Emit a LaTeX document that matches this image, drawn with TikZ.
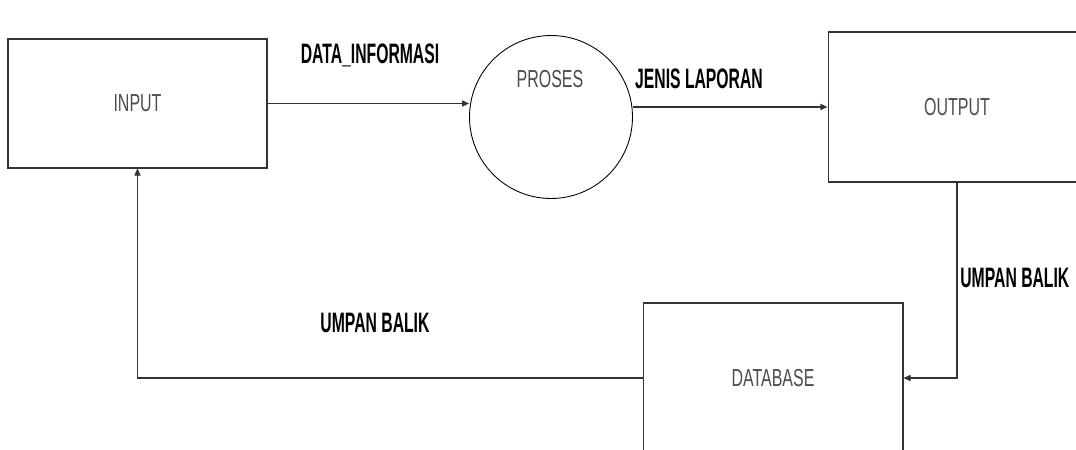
\documentclass[tikz,border=0pt]{standalone}
\usepackage{fontspec}
\setmainfont{Liberation Sans}
\newfontfamily\narrowfont[FakeStretch=0.65]{Liberation Sans}
\newfontfamily\narrowbold[FakeStretch=0.56]{Liberation Sans Bold}
\usetikzlibrary{arrows.meta, positioning, calc}

\begin{document}
\begin{tikzpicture}[x=0.02cm, y=-0.02cm,
        box/.style={draw=black!80, line width=0.6pt, text=black!70, font=\narrowfont\fontsize{14}{16}\selectfont},
        circ/.style={circle, draw=black, line width=0.5pt, minimum size=3.26cm, inner sep=0},
        lbl/.style={inner sep=0, font=\narrowbold\fontsize{16}{18}\selectfont},
        e/.style={-{Triangle[length=4pt, width=3.5pt]}, line width=0.6pt, draw=black!80}]
        \useasboundingbox (0,0) rectangle (1076,450);

        \draw node[box, minimum width=5.18cm, minimum height=2.58cm] (input) at (137.5,103.5) {INPUT};
        \draw node[circ] (proses) at (551,117) {} node[box, draw=none, inner sep=0] (prosesText) at (550,79) {PROSES};
        \draw node[box, minimum width=5.16cm, minimum height=3cm] (output) at (957,107) {OUTPUT};
        \draw node[box, minimum width=5.2cm, minimum height=3cm] (database) at (773,378) {DATABASE};

        \draw node[lbl] (dataInfo) at (370,55) {DATA\_INFORMASI};
        \draw node[lbl] (jenis) at (699,79) {JENIS LAPORAN};
        \draw node[lbl, anchor=west] (umpan1) at (960,278) {UMPAN BALIK};
        \draw node[lbl] (umpan2) at (375,323) {UMPAN BALIK};

        \draw[e] (input.east) -- (input.east -| proses.west);
        \draw[e] (output.west -| proses.east) -- (output.west);
        \draw[e] (output.south) |- (database.east);
        \draw[e] (database.west) -| (input.south);
      \end{tikzpicture}
\end{document}
